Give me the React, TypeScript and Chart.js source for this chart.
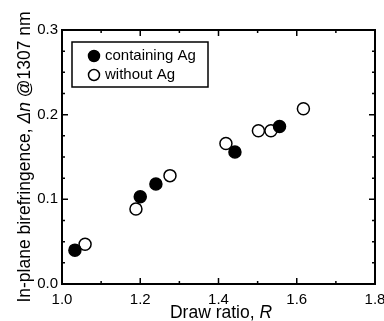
import React, { useEffect, useRef } from "react";
import { Chart, registerables } from "chart.js";

Chart.register(...registerables);

const withAgR = [1.033, 1.2, 1.24, 1.442, 1.556];
const withAgDn = [0.04, 0.103, 0.118, 0.156, 0.186];
const withoutAgR = [1.059, 1.189, 1.276, 1.419, 1.502, 1.534, 1.617];
const withoutAgDn = [0.047, 0.0885, 0.128, 0.166, 0.181, 0.181, 0.207];
const seriesNames = ["containing Ag", "without Ag"];
const xTitle = [
  { t: "Draw ratio, ", i: false },
  { t: "R", i: true },
];
const yTitle = [
  { t: "In-plane birefringence, ", i: false },
  { t: "\u0394n", i: true },
  { t: " @1307 nm", i: false },
];

const FONT = "'Liberation Sans', Arial, sans-serif";
const FS = 15;
const TFS = 17.5;

function drawSegs(ctx: CanvasRenderingContext2D, segs: { t: string; i: boolean }[], size: number) {
  let total = 0;
  const widths = segs.map((s) => {
    ctx.font = `${s.i ? "italic " : ""}${size}px ${FONT}`;
    const w = ctx.measureText(s.t).width;
    total += w;
    return w;
  });
  let x = -total / 2;
  segs.forEach((s, k) => {
    ctx.font = `${s.i ? "italic " : ""}${size}px ${FONT}`;
    ctx.fillText(s.t, x, 0);
    x += widths[k];
  });
}

const framePlugin = {
  id: "frame",
  afterDraw(chart: any) {
    const ctx = chart.ctx as CanvasRenderingContext2D;
    const { left, right, top, bottom } = chart.chartArea;
    const xs = chart.scales.x;
    const ys = chart.scales.y;
    ctx.save();
    ctx.strokeStyle = "#000";
    ctx.lineWidth = 2;
    ctx.strokeRect(left, top, right - left, bottom - top);
    ctx.lineWidth = 1.5;
    ctx.beginPath();
    for (let k = 0; k <= 8; k++) {
      const v = 1.0 + k * 0.1;
      const px = xs.getPixelForValue(v);
      const len = k % 2 === 0 ? 6 : 3;
      ctx.moveTo(px, bottom);
      ctx.lineTo(px, bottom - len);
      ctx.moveTo(px, top);
      ctx.lineTo(px, top + len);
    }
    for (let k = 0; k <= 12; k++) {
      const v = k * 0.025;
      const py = ys.getPixelForValue(v);
      const len = k % 4 === 0 ? 6 : 3;
      ctx.moveTo(left, py);
      ctx.lineTo(left + len, py);
      ctx.moveTo(right, py);
      ctx.lineTo(right - len, py);
    }
    ctx.stroke();

    ctx.fillStyle = "#000";
    ctx.textBaseline = "alphabetic";
    ctx.textAlign = "left";
    // x title
    ctx.save();
    ctx.translate(221, 318);
    drawSegs(ctx, xTitle, TFS);
    ctx.restore();
    // y title
    ctx.save();
    ctx.translate(30, 157);
    ctx.rotate(-Math.PI / 2);
    drawSegs(ctx, yTitle, TFS);
    ctx.restore();

    // legend
    const lx = 72, ly = 42, lw = 136, lh = 45;
    ctx.lineWidth = 1.5;
    ctx.strokeRect(lx, ly, lw, lh);
    const ds = chart.data.datasets;
    ds.forEach((d: any, k: number) => {
      const cy = ly + 14 + k * 19;
      ctx.beginPath();
      ctx.arc(lx + 22, cy, 5.5, 0, Math.PI * 2);
      ctx.fillStyle = d.pointBackgroundColor;
      ctx.fill();
      ctx.strokeStyle = "#000";
      ctx.lineWidth = 1.5;
      ctx.stroke();
      ctx.fillStyle = "#000";
      ctx.font = `${FS}px ${FONT}`;
      ctx.textBaseline = "middle";
      ctx.fillText(d.label, lx + 33, cy);
    });
    ctx.restore();
  },
};

export default function App() {
  const ref = useRef<HTMLCanvasElement>(null);
  useEffect(() => {
    document.body.style.margin = "0";
    const chart = new Chart(ref.current!, {
      type: "scatter",
      data: {
        datasets: [
          {
            label: seriesNames[0],
            data: withAgR.map((x, i) => ({ x, y: withAgDn[i] })),
            pointRadius: 6,
            pointBackgroundColor: "#000",
            pointBorderColor: "#000",
            pointBorderWidth: 1.5,
          },
          {
            label: seriesNames[1],
            data: withoutAgR.map((x, i) => ({ x, y: withoutAgDn[i] })),
            pointRadius: 6,
            pointBackgroundColor: "#fff",
            pointBorderColor: "#000",
            pointBorderWidth: 1.5,
          },
        ],
      },
      options: {
        animation: false,
        responsive: false,
        layout: { padding: { left: 0, right: 9, top: 30, bottom: 0 } },
        plugins: { legend: { display: false }, tooltip: { enabled: false } },
        scales: {
          x: {
            type: "linear",
            min: 1.0,
            max: 1.8,
            grid: { display: false, drawTicks: false },
            border: { display: false },
            ticks: {
              stepSize: 0.2,
              color: "#000",
              font: { family: FONT, size: FS },
              padding: 7,
              callback: (v: any) => Number(v).toFixed(1),
            },
            afterFit: (s: any) => {
              s.height = 37;
              s.paddingLeft = 0;
              s.paddingRight = 0;
            },
          },
          y: {
            type: "linear",
            min: 0,
            max: 0.3,
            grid: { display: false, drawTicks: false },
            border: { display: false },
            ticks: {
              stepSize: 0.1,
              color: "#000",
              font: { family: FONT, size: FS },
              padding: 4,
              callback: (v: any) => Number(v).toFixed(1),
            },
            afterFit: (s: any) => {
              s.width = 62;
              s.paddingTop = 0;
              s.paddingBottom = 0;
            },
          },
        },
      },
      plugins: [framePlugin],
    });
    return () => chart.destroy();
  }, []);
  return <canvas ref={ref} width={384} height={321} style={{ display: "block" }} />;
}
